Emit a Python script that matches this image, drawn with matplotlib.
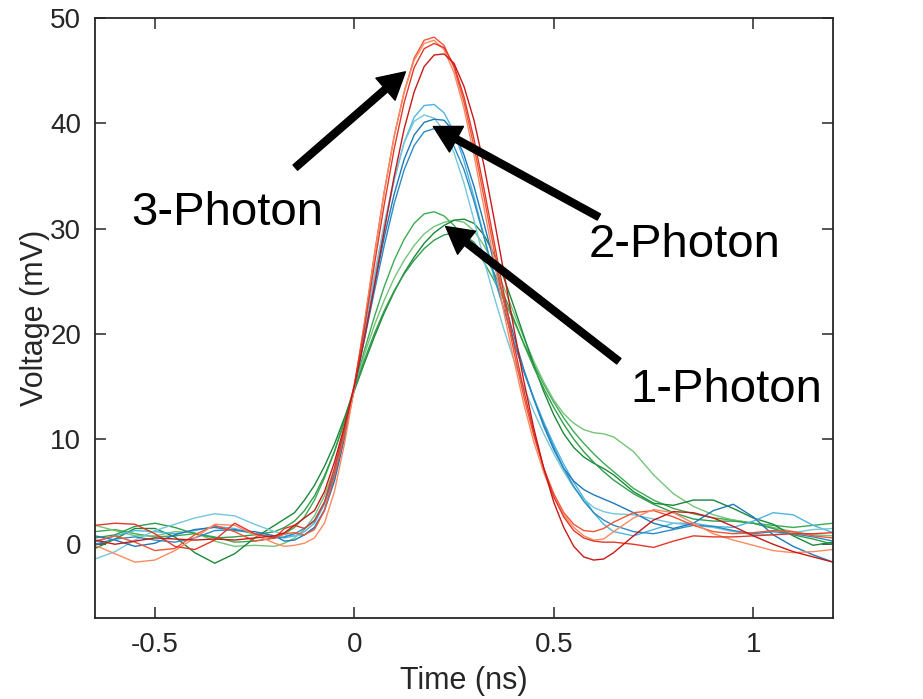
import matplotlib
matplotlib.use('Agg')

import matplotlib.pyplot as plt

plt.rcParams['font.family'] = ['Liberation Sans', 'DejaVu Sans']
plt.rcParams['axes.unicode_minus'] = False

# Shared time axis (ns): coarse on the baseline, fine around the pulse
time_ns = [-0.65, -0.6, -0.55, -0.5, -0.45, -0.4, -0.35, -0.3, -0.25,
           -0.2, -0.175, -0.15, -0.125, -0.1, -0.075, -0.05, -0.025, 0.0,
           0.025, 0.05, 0.075, 0.1, 0.125, 0.15, 0.175, 0.2, 0.225, 0.25,
           0.275, 0.3, 0.325, 0.35, 0.375, 0.4, 0.425, 0.45, 0.475, 0.5,
           0.525, 0.55, 0.575, 0.6, 0.625, 0.65,
           0.7, 0.75, 0.8, 0.85, 0.9, 0.95, 1.0, 1.05, 1.1, 1.15, 1.2]

# 3-photon traces (mV)
red_1 = [0.3, 0.8, 0.2, -0.6, -0.4, 0.9, 1.8, 1.2, 0.3,
         0.6, 1.0, 1.1, 0.9, 1.4, 3.2, 6.5, 10.5, 15, 21, 27.5, 33.5, 38.8, 43, 46.2, 47.9, 48.2, 47.4,
         45.3, 42, 37.8, 33, 28, 23, 18.3, 14, 10.3, 7.2, 4.8, 3.0, 1.9, 1.3, 1.2, 1.5, 2.1,
         3.0, 3.2, 2.6, 1.8, 1.2, 1.0, 1.1, 1.3, 1.2, 0.8, 0.6]
red_2 = [-0.1, -0.9, -1.7, -1.5, -0.6, 0.6, 1.9, 1.8, 0.9,
         0.1, -0.2, -0.1, 0.1, 0.6, 2.0, 5.0, 9.5, 14.8, 20.8, 27.3, 33.5, 38.8, 43, 46, 47.6, 47.9, 47,
         44.8, 41.4, 37, 32, 27, 22, 17.5, 13.3, 9.7, 6.8, 4.5, 2.8, 1.6, 0.8, 0.4, 0.5, 1.2,
         2.5, 3.3, 3.0, 2.0, 1.0, 0.4, -0.1, -0.6, -0.8, -0.7, -0.5]
red_3 = [1.8, 2.0, 1.9, 1.0, -0.2, -0.5, 0.4, 2.0, 1.0,
         0.6, 1.5, 1.8, 1.5, 2.2, 4.0, 7.2, 11, 15.2, 20.5, 26.5, 32.3, 37.6, 42, 45.3, 47.1, 47.6, 47.2,
         45.5, 42.5, 38.5, 33.8, 28.8, 23.8, 19, 14.6, 10.6, 7.2, 4.5, 2.6, 1.3, 0.6, 0.3, 0.2, 0.2,
         0.0, -0.3, 0.3, 0.8, 0.7, 0.7, 0.8, 0.9, 1.0, 1.0, 1.1]
red_4 = [0.4, 0.0, 0.3, 0.6, 0.5, 0.4, 0.5, 0.4, 0.6,
         0.8, 1.1, 1.8, 2.5, 3.2, 5.0, 7.8, 11.2, 15, 19.5, 24.5, 29.8, 35, 39.5, 43, 45.4, 46.5, 46.6,
         45.7, 43.5, 40.3, 36, 31, 25.8, 20.5, 15.5, 11, 7.2, 4.0, 1.6, -0.2, -1.2, -1.5, -1.4, -0.8,
         0.8, 2.3, 3.1, 3.0, 2.5, 1.7, 0.8, 0.0, -0.7, -1.2, -1.7]

# 2-photon traces (mV)
blue_1 = [0.2, 0.8, 1.3, 1.2, 1.0, 1.3, 1.7, 1.5, 1.0,
          0.7, 0.6, 0.8, 1.2, 2.0, 3.8, 6.6, 10.5, 15, 20, 25.2, 30.2, 34.6, 38.2, 40.6, 41.7, 41.8, 41,
          39.2, 36.4, 33, 29.3, 25.4, 22.3, 19.2, 16.4, 13.9, 11.6, 9.5, 7.6, 5.9, 4.4, 3.0, 1.9, 1.2,
          0.8, 1.4, 2.0, 2.0, 1.7, 1.6, 2.2, 3.0, 2.8, 1.8, 1.1]
blue_2 = [-1.4, -0.7, 0.4, 1.3, 1.9, 2.5, 2.9, 2.7, 1.9,
          1.2, 0.9, 0.8, 0.9, 1.6, 3.3, 6.2, 10.2, 15, 20.2, 25.5, 30.5, 34.8, 38.2, 40.2, 40.8, 40.5, 39.3,
          37.2, 34.3, 30.8, 27, 23.6, 20.4, 17.5, 14.9, 12.6, 10.5, 8.6, 6.9, 5.4, 4.3, 3.5, 3.1, 2.9,
          2.8, 2.4, 2.0, 1.8, 1.6, 1.2, 0.9, 0.9, 1.1, 1.4, 1.5]
blue_3 = [0.8, 0.4, -0.2, 0.1, 0.9, 1.4, 1.6, 1.3, 1.2,
          0.8, 0.3, 0.4, 0.9, 1.6, 3.2, 6.0, 10.0, 14.8, 19.6, 24.5, 29.2, 33.3, 36.6, 38.9, 40.1, 40.4, 40.3,
          39.2, 37, 34, 30.5, 26.8, 23.2, 19.8, 16.6, 13.8, 11.2, 9.0, 7.2, 6.0, 5.2, 4.7, 4.3, 3.9,
          3.0, 2.0, 1.5, 2.0, 3.2, 3.8, 2.6, 0.9, -0.2, -1.0, -1.7]
blue_4 = [0.0, 0.5, 0.7, 0.4, 0.2, 0.6, 1.3, 1.4, 1.0,
          0.6, 0.7, 1.0, 1.5, 2.3, 4.0, 6.7, 10.5, 14.9, 19.4, 24.0, 28.4, 32.4, 35.6, 37.9, 39.2, 39.5, 39.1,
          37.8, 35.6, 32.6, 29.2, 25.7, 22.3, 19.2, 16.4, 13.8, 11.4, 9.2, 7.2, 5.5, 4.1, 3.0, 2.3, 1.8,
          1.2, 1.0, 1.4, 1.8, 1.7, 1.3, 1.0, 1.2, 1.0, 0.7, 0.3]

# 1-photon traces (mV)
green_1 = [1.2, 1.4, 1.0, 0.7, 0.8, 1.0, 0.7, 0.2, 0.3,
           0.6, 1.0, 1.6, 2.6, 4.2, 6.3, 8.8, 11.8, 15, 18.4, 21.6, 24.5, 27, 29, 30.5, 31.4, 31.6, 31.2,
           30.3, 29, 28.3, 26.8, 25.1, 23.2, 21.2, 19.1, 17.1, 15.2, 13.5, 12.0, 10.7, 9.6, 8.6, 7.7, 6.9,
           5.3, 4.2, 3.4, 2.9, 2.5, 2.3, 2.0, 1.8, 1.6, 1.8, 2.0]
green_2 = [1.8, 1.3, 0.8, 0.8, 1.2, 1.1, 0.3, -0.2, -0.1,
           -0.2, 0.1, 0.6, 1.4, 2.7, 4.6, 7.2, 10.8, 14.8, 18.0, 20.8, 23.2, 25.3, 27.0, 28.4, 29.5, 30.2, 30.6,
           30.8, 30.6, 29.8, 28.4, 26.6, 24.4, 22.0, 19.6, 17.4, 15.4, 13.7, 12.4, 11.5, 10.9, 10.6, 10.5, 10.2,
           8.8, 6.6, 4.8, 3.6, 2.8, 2.3, 2.0, 1.6, 1.2, 0.9, 0.8]
green_3 = [-0.4, 0.5, 1.5, 1.5, 0.7, -0.8, -1.8, -0.9, 0.6,
           1.8, 2.4, 3.0, 4.2, 5.6, 7.4, 9.5, 12.0, 14.6, 17.2, 19.7, 22.0, 24.0, 25.8, 27.3, 28.6, 29.6, 30.3,
           30.8, 30.9, 30.5, 29.4, 27.6, 25.3, 22.6, 19.8, 17.0, 14.5, 12.3, 10.5, 9.2, 8.3, 7.7, 7.2, 6.6,
           5.0, 3.9, 3.7, 4.2, 4.2, 3.4, 2.5, 1.9, 0.8, -0.1, 0.2]
green_4 = [0.6, 0.9, 1.7, 2.0, 1.6, 1.0, 0.6, 0.7, 0.9,
           1.2, 1.6, 2.2, 3.2, 4.6, 6.5, 8.8, 11.6, 14.7, 17.5, 20.0, 22.2, 24.1, 25.7, 27.0, 28.1, 28.9, 29.4,
           29.6, 29.4, 28.7, 27.5, 25.8, 23.7, 21.4, 19.0, 16.8, 14.8, 13.0, 11.4, 10.0, 8.8, 7.8, 6.9, 6.1,
           4.8, 3.8, 3.0, 2.4, 2.2, 2.2, 2.0, 1.5, 0.9, 0.5, 0.0]

green_traces = [green_1, green_2, green_3, green_4]
blue_traces = [blue_1, blue_2, blue_3, blue_4]
red_traces = [red_1, red_2, red_3, red_4]

green_colors = ['#3caa55', '#74c478', '#1b873a', '#2e9e4c']
blue_colors = ['#4fb4e0', '#74c7d8', '#1f78b8', '#2b8cc4']
red_colors = ['#f05536', '#fc8a62', '#e3382a', '#c81818']

fig = plt.figure(figsize=(9.23, 6.99), dpi=100)
ax = fig.add_axes([0.103, 0.116, 0.7995, 0.858])

for vals, c in zip(green_traces, green_colors):
    ax.plot(time_ns, vals, color=c, lw=1.0)
for vals, c in zip(blue_traces, blue_colors):
    ax.plot(time_ns, vals, color=c, lw=1.0)
for vals, c in zip(red_traces, red_colors):
    ax.plot(time_ns, vals, color=c, lw=1.0)

ax.set_xlim(-0.65, 1.2)
ax.set_ylim(-7, 50)
ax.set_xticks([-0.5, 0, 0.5, 1])
ax.set_xticklabels(['-0.5', '0', '0.5', '1'])
ax.set_yticks([0, 10, 20, 30, 40, 50])

axis_col = '#262626'
for s in ax.spines.values():
    s.set_color(axis_col)
    s.set_linewidth(1.3)
ax.tick_params(direction='in', length=8, width=1.1, colors=axis_col,
               labelsize=20, top=True, right=True, pad=10)

ax.set_xlabel('Time (ns)', fontsize=22, color=axis_col, labelpad=6)
ax.set_ylabel('Voltage (mV)', fontsize=22, color=axis_col, labelpad=0)

# Photon-number annotations: arrow tails, arrow tips, label positions (data units)
labels = ['3-Photon', '2-Photon', '1-Photon']
arrow_tips = [(0.128, 44.9), (0.198, 39.7), (0.229, 30.2)]
arrow_tails = [(-0.148, 35.8), (0.613, 31.1), (0.663, 17.4)]
label_pos = [(-0.318, 31.5), (0.827, 28.4), (0.932, 14.7)]

for lab, tip, tail, pos in zip(labels, arrow_tips, arrow_tails, label_pos):
    ax.annotate('', xy=tip, xytext=tail,
                arrowprops=dict(facecolor='black', edgecolor='black', width=5,
                                headwidth=21, headlength=19, shrink=0))
    ax.text(pos[0], pos[1], lab, fontsize=34, color='black',
            ha='center', va='center')

plt.savefig('out.png', dpi=100)
plt.close(fig)
